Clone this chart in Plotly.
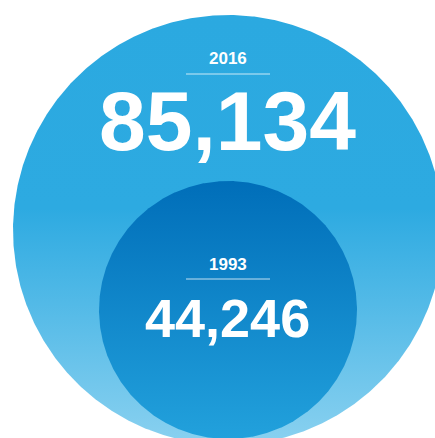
import numpy as np
import plotly.graph_objects as go

years = ["2016", "1993"]
values = [85134, 44246]

W, H = 435, 438
# circle geometry (pixel space)
centers = [(228, 230), (228, 310)]
radii = [215, 129]
scales = [
    [[0, "#8AD1F0"], [0.55, "#2DAAE1"], [1, "#2BA9E0"]],
    [[0, "#22A1DC"], [1, "#006EB9"]],
]
year_y = [58, 264]
line_y = [74, 279]
num_y = [121, 318]
num_size = [84, 54]
year_size = [17, 17]

fig = go.Figure()
t = np.linspace(0, 2 * np.pi, 721)
for (cx, cy), r, cs in zip(centers, radii, scales):
    fig.add_trace(go.Scatter(
        x=cx + r * np.cos(t), y=cy + r * np.sin(t),
        mode="lines", line=dict(width=0), fill="toself",
        fillgradient=dict(type="vertical", colorscale=cs),
        hoverinfo="skip", showlegend=False))

for i in range(2):
    fig.add_annotation(x=228, y=year_y[i], xref="x", yref="y", text="<b>" + years[i] + "</b>",
                       showarrow=False, font=dict(family="Liberation Sans, Arial", size=year_size[i], color="white"),
                       xanchor="center", yanchor="middle")
    fig.add_annotation(x=227, y=num_y[i], xref="x", yref="y", text="<b>" + f"{values[i]:,}" + "</b>",
                       showarrow=False, font=dict(family="Liberation Sans, Arial", size=num_size[i], color="white"),
                       xanchor="center", yanchor="middle")
    fig.add_shape(type="line", x0=186, x1=270, y0=line_y[i], y1=line_y[i], xref="x", yref="y",
                  line=dict(color="rgba(255,255,255,0.75)", width=1))

fig.update_layout(
    width=W, height=H, margin=dict(l=0, r=0, t=0, b=0),
    paper_bgcolor="white", plot_bgcolor="white",
    xaxis=dict(range=[0, W], visible=False, fixedrange=True),
    yaxis=dict(range=[H, 0], visible=False, fixedrange=True),
)
fig.write_html("out.html")
